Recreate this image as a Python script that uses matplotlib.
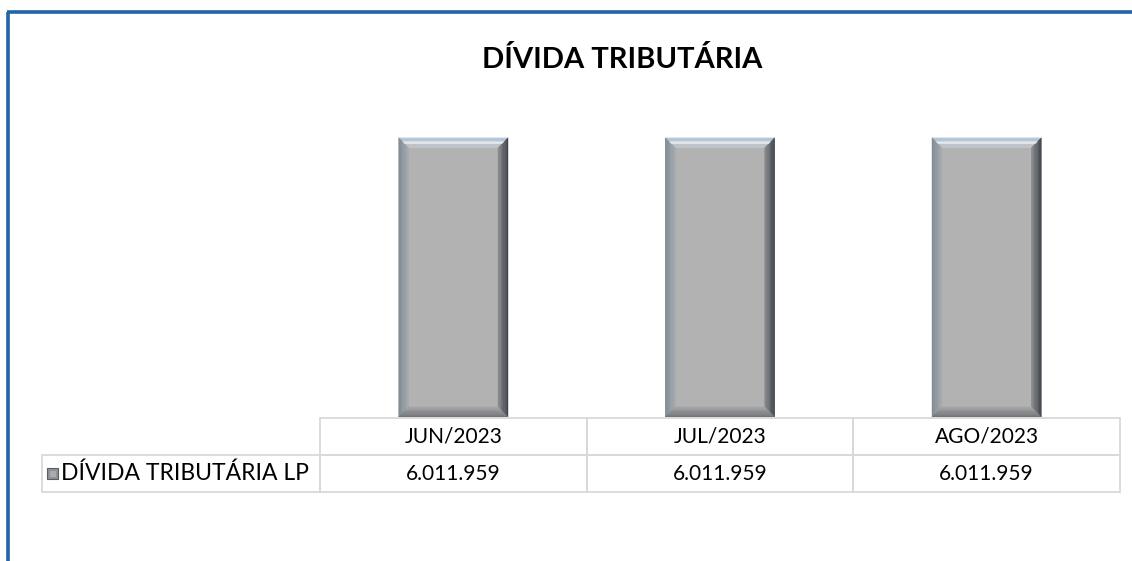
import matplotlib
matplotlib.use("Agg")
import matplotlib.pyplot as plt
from matplotlib.patches import Polygon, Rectangle
from matplotlib.lines import Line2D
import numpy as np

title = "DÍVIDA TRIBUTÁRIA"
categories = ["JUN/2023", "JUL/2023", "AGO/2023"]
series_name = "DÍVIDA TRIBUTÁRIA LP"
values = [6011959, 6011959, 6011959]
value_labels = ["6.011.959", "6.011.959", "6.011.959"]

W, H = 1132, 561
fig = plt.figure(figsize=(W / 100, H / 100), dpi=100)
plt.rcParams["font.family"] = ["Lato", "DejaVu Sans"]


def fx(px):
    return px / W


def fy(py):
    return 1 - py / H


ax_left, ax_right, ax_bot, ax_top = 320, 1120, 417, 92
ax = fig.add_axes([fx(ax_left), fy(ax_bot), fx(ax_right - ax_left), (ax_bot - ax_top) / H])
ax.set_xlim(-0.5, len(categories) - 0.5)
ax.set_ylim(0, 7000000)
ax.axis("off")

face = "#b2b2b2"
bars = ax.bar(range(len(categories)), values, width=0.41, color=face, linewidth=0)


def mix(c1, c2, t):
    a = np.array(matplotlib.colors.to_rgb(c1))
    b = np.array(matplotlib.colors.to_rgb(c2))
    return a + (b - a) * t


def band(ax, outer, inner, c_out, c_in, n=8):
    # strip drawn from the outer edge of the bar to the inner edge of the bevel
    (o1, o2), (i1, i2) = outer, inner
    for k in range(n):
        t0, t1 = k / n, (k + 1) / n
        p1 = o1 + (i1 - o1) * t0
        p2 = o2 + (i2 - o2) * t0
        p3 = o2 + (i2 - o2) * t1
        p4 = o1 + (i1 - o1) * t1
        ax.add_patch(Polygon([p1, p2, p3, p4], closed=True,
                             color=mix(c_out, c_in, (t0 + t1) / 2), linewidth=0.3))


# bevel size (pixels) in data units
bx = 10 * (ax.get_xlim()[1] - ax.get_xlim()[0]) / (ax_right - ax_left)
by = 10 * (ax.get_ylim()[1] - ax.get_ylim()[0]) / (ax_bot - ax_top)

for b in bars:
    x0, y0 = b.get_x(), b.get_y()
    x1, y1 = x0 + b.get_width(), y0 + b.get_height()
    A = np.array([x0, y1]); B = np.array([x1, y1])
    C = np.array([x1, y0]); D = np.array([x0, y0])
    a = np.array([x0 + bx, y1 - by]); bb = np.array([x1 - bx, y1 - by])
    c = np.array([x1 - bx, y0 + by]); d = np.array([x0 + bx, y0 + by])
    band(ax, (A, B), (a, bb), "#b4c8de", "#c4c4c4")
    band(ax, (D, A), (d, a), "#7c8993", "#a9acb0")
    band(ax, (B, C), (bb, c), "#3b4047", "#8a8d91")
    band(ax, (C, D), (c, d), "#6d7075", "#a6a6a6")
    ax.add_patch(Polygon([A + (a - A) * 0.35, B + (bb - B) * 0.35,
                          B + (bb - B) * 0.6, A + (a - A) * 0.6],
                         closed=True, color="#e4e6e8", linewidth=0))

fig.text(fx(622), fy(59), title, ha="center", va="center",
         fontsize=21, fontweight="bold", color="#000000")

# data table under the axes
grid = "#d9d9d9"
row_top, row_mid, row_bot = 418, 455, 492
label_left = 42
col_edges = [ax_left + (ax_right - ax_left) * i / len(categories) for i in range(len(categories) + 1)]


def cell(xl, xr, yt, yb):
    fig.add_artist(Rectangle((fx(xl), fy(yb)), fx(xr - xl), (yb - yt) / H,
                             transform=fig.transFigure, fill=False,
                             edgecolor=grid, linewidth=1.3))


cell(label_left, ax_left, row_mid, row_bot)
for i, cat in enumerate(categories):
    cell(col_edges[i], col_edges[i + 1], row_top, row_mid)
    cell(col_edges[i], col_edges[i + 1], row_mid, row_bot)
    xc = (col_edges[i] + col_edges[i + 1]) / 2
    fig.text(fx(xc), fy((row_top + row_mid) / 2), cat, ha="center", va="center",
             fontsize=15, color="#000000")
    fig.text(fx(xc), fy((row_mid + row_bot) / 2), value_labels[i], ha="center",
             va="center", fontsize=15, color="#000000")

# legend key
fig.add_artist(Rectangle((fx(47), fy(479)), fx(11), 11 / H, transform=fig.transFigure,
                         facecolor="#8e9196", edgecolor="#5a5e63", linewidth=0.8))
fig.add_artist(Rectangle((fx(49.5), fy(476.5)), fx(6), 6 / H, transform=fig.transFigure,
                         facecolor="#a9abae", edgecolor="none"))
fig.text(fx(61), fy((row_mid + row_bot) / 2), series_name, ha="left", va="center",
         fontsize=16.5, color="#000000")

# frame border
blue = "#1f66a6"
fig.add_artist(Line2D([fx(8), fx(8)], [fy(561), fy(12)], transform=fig.transFigure,
                      color=blue, linewidth=2.6, solid_capstyle="butt"))
fig.add_artist(Line2D([fx(7), fx(1132)], [fy(12), fy(12)], transform=fig.transFigure,
                      color=blue, linewidth=2.6, solid_capstyle="butt"))

fig.savefig("out.png", dpi=100, facecolor="white")
